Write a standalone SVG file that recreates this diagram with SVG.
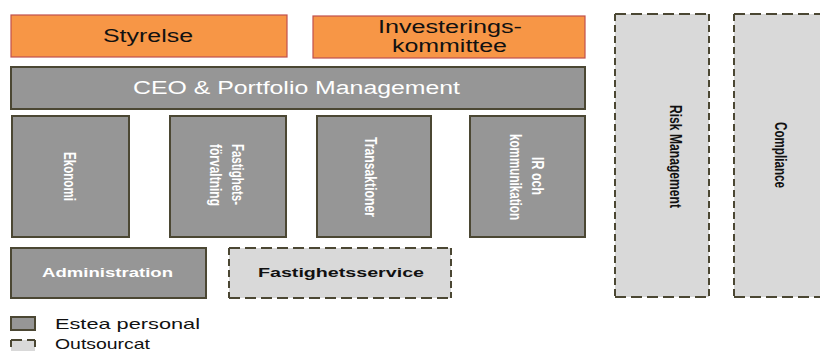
<svg xmlns="http://www.w3.org/2000/svg" width="820" height="351" viewBox="0 0 820 351">
  <style>
    .board { fill: #F79646; stroke: #C0504D; stroke-width: 1.2; }
    .staff { fill: #969696; stroke: #4B4733; stroke-width: 2; }
    .ext   { fill: #D9D9D9; stroke: none; }
    .dashH { fill: none; stroke: #4B4733; stroke-width: 2; stroke-dasharray: 11 5; }
    .dashV { fill: none; stroke: #4B4733; stroke-width: 2; stroke-dasharray: 7 4; }
    text { font-family: "Liberation Sans", Arial, sans-serif; }
    .h18 { font-size: 18px; }
    .dark { fill: #111111; }
    .light { fill: #FFFFFF; }
    .bold13 { font-size: 13px; font-weight: bold; }
    .vert { font-size: 12.5px; font-weight: bold; }
    .legend { font-size: 15px; fill: #111111; }
  </style>

  <!-- Board level -->
  <g id="styrelse">
    <rect class="board" x="11" y="15" width="276" height="42"/>
    <text class="h18 dark" x="103" y="42" textLength="90" lengthAdjust="spacingAndGlyphs">Styrelse</text>
  </g>
  <g id="investeringskommitte">
    <rect class="board" x="313" y="16" width="272" height="42"/>
    <text class="h18 dark" x="378" y="33" textLength="144" lengthAdjust="spacingAndGlyphs">Investerings-</text>
    <text class="h18 dark" x="392" y="52" textLength="115" lengthAdjust="spacingAndGlyphs">kommittee</text>
  </g>

  <!-- Management -->
  <g id="ceo">
    <rect class="staff" x="11" y="67" width="574" height="42"/>
    <text class="h18 light" x="133" y="94" textLength="327" lengthAdjust="spacingAndGlyphs">CEO &amp; Portfolio Management</text>
  </g>

  <!-- Functions (vertical labels) -->
  <g id="ekonomi">
    <rect class="staff" x="12" y="116" width="117" height="121"/>
    <text class="vert light" transform="translate(64 152) rotate(90) scale(1 1.3)" textLength="49" lengthAdjust="spacingAndGlyphs">Ekonomi</text>
  </g>
  <g id="fastighetsforvaltning">
    <rect class="staff" x="170" y="116" width="116" height="121"/>
    <text class="vert light" transform="translate(232 144) rotate(90) scale(1 1.3)" textLength="61" lengthAdjust="spacingAndGlyphs">Fastighets-</text>
    <text class="vert light" transform="translate(210 144) rotate(90) scale(1 1.3)" textLength="62" lengthAdjust="spacingAndGlyphs">förvaltning</text>
  </g>
  <g id="transaktioner">
    <rect class="staff" x="317" y="116" width="114" height="121"/>
    <text class="vert light" transform="translate(365 137) rotate(90) scale(1 1.3)" textLength="80" lengthAdjust="spacingAndGlyphs">Transaktioner</text>
  </g>
  <g id="ir-kommunikation">
    <rect class="staff" x="470" y="116" width="115" height="121"/>
    <text class="vert light" transform="translate(532 157) rotate(90) scale(1 1.3)" textLength="38" lengthAdjust="spacingAndGlyphs">IR och</text>
    <text class="vert light" transform="translate(510 134) rotate(90) scale(1 1.3)" textLength="86" lengthAdjust="spacingAndGlyphs">kommunikation</text>
  </g>

  <!-- Support -->
  <g id="administration">
    <rect class="staff" x="11" y="248" width="195" height="50"/>
    <text class="bold13 light" x="42" y="277" textLength="131" lengthAdjust="spacingAndGlyphs">Administration</text>
  </g>
  <g id="fastighetsservice">
    <rect class="ext" x="229" y="248" width="222" height="50"/>
    <path class="dashH" d="M229 248H451M229 298H451"/>
    <path class="dashV" d="M229 248V298M451 248V298"/>
    <text class="bold13 dark" x="258" y="277" textLength="166" lengthAdjust="spacingAndGlyphs">Fastighetsservice</text>
  </g>

  <!-- Outsourced control functions -->
  <g id="risk-management">
    <rect class="ext" x="615" y="14" width="94" height="283"/>
    <path class="dashH" d="M615 14H709M615 297H709"/>
    <path class="dashV" d="M615 14V297M709 14V297"/>
    <text class="vert dark" transform="translate(670 105) rotate(90) scale(1 1.3)" textLength="103" lengthAdjust="spacingAndGlyphs">Risk Management</text>
  </g>
  <g id="compliance">
    <rect class="ext" x="734" y="14" width="100" height="283"/>
    <path class="dashH" d="M734 14H834M734 297H834"/>
    <path class="dashV" d="M734 14V297"/>
    <text class="vert dark" transform="translate(775 122) rotate(90) scale(1 1.3)" textLength="66" lengthAdjust="spacingAndGlyphs">Compliance</text>
  </g>

  <!-- No connectors in this chart -->
  <g id="connectors"/>

  <!-- Legend -->
  <g id="legend">
    <rect class="staff" x="11" y="317" width="24" height="13"/>
    <text class="legend" x="55" y="329" textLength="145" lengthAdjust="spacingAndGlyphs">Estea personal</text>
    <rect class="ext" x="11" y="340" width="24" height="14"/>
    <path class="dashH" d="M11 340H35"/>
    <path class="dashV" d="M11 340V354M35 340V354"/>
    <text class="legend" x="55" y="349" textLength="95" lengthAdjust="spacingAndGlyphs">Outsourcat</text>
  </g>
</svg>
